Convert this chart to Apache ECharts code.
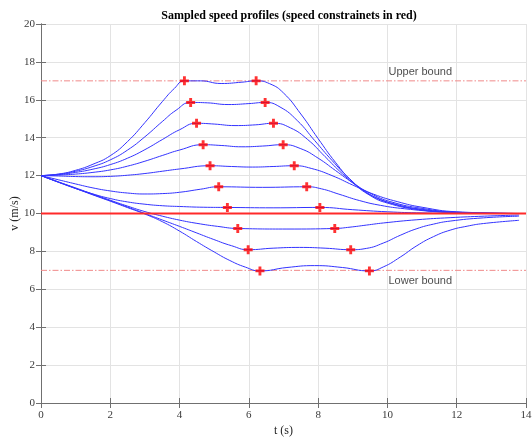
<!DOCTYPE html>
<html>
<head>
<meta charset="utf-8">
<script src="https://cdn.jsdelivr.net/npm/echarts@6/dist/echarts.min.js"></script>
<style>
  *{ margin:0; padding:0; }
  #chart{ width:532px; height:438px; background:#fff; }
</style>
</head>
<body>
<div id="chart"></div>
<script>
// speed profiles [t, v]
var profile1 = [[0,12],[0.5,12.08],[1,12.28],[1.5,12.6],[2,13.05],[2.5,13.8],[3,14.8],[3.5,15.9],[3.85,16.6],[4.14,17],[4.6,17.0],[5.2,16.86],[5.8,16.93],[6.21,17],[6.6,16.85],[7.0,16.36],[7.5,15.25],[8.0,13.95],[8.5,12.7],[9.0,11.65],[9.5,10.95],[10,10.55],[10.9,10.2],[11.8,10.06],[12.8,10.01],[13.8,10]];
var profile2 = [[0,12],[0.5,12.07],[1,12.23],[1.5,12.48],[2,12.83],[2.5,13.35],[3,14.05],[3.5,14.85],[3.9,15.45],[4.32,15.86],[4.8,15.84],[5.4,15.75],[6.0,15.8],[6.47,15.86],[6.9,15.62],[7.4,14.9],[7.9,13.85],[8.4,12.8],[8.9,11.85],[9.4,11.1],[10,10.6],[10.9,10.22],[11.8,10.07],[12.8,10.01],[13.8,10]];
var profile3 = [[0,12],[0.5,12.05],[1,12.17],[1.5,12.34],[2,12.58],[2.5,12.92],[3,13.37],[3.5,13.9],[4.0,14.42],[4.49,14.76],[5.0,14.72],[5.6,14.64],[6.2,14.68],[6.71,14.76],[7.2,14.52],[7.7,13.9],[8.2,13.0],[8.7,12.1],[9.2,11.35],[9.7,10.82],[10.3,10.46],[11,10.22],[12,10.06],[13.8,10]];
var profile4 = [[0,12],[0.5,12.03],[1,12.08],[1.5,12.17],[2,12.3],[2.5,12.5],[3,12.76],[3.5,13.06],[4,13.35],[4.68,13.63],[5.2,13.59],[5.8,13.52],[6.4,13.56],[6.99,13.63],[7.5,13.42],[8,12.92],[8.5,12.27],[9,11.62],[9.5,11.07],[10.1,10.62],[11,10.27],[12,10.07],[13.8,10]];
var profile5 = [[0,12],[0.5,11.98],[1,11.95],[1.5,11.94],[2,11.96],[2.5,12.02],[3,12.11],[3.5,12.23],[4,12.35],[4.88,12.52],[5.5,12.48],[6.1,12.45],[6.7,12.48],[7.31,12.52],[7.8,12.38],[8.4,12.0],[9,11.5],[9.6,11.02],[10.3,10.62],[11,10.33],[12,10.09],[13.8,10]];
var profile6 = [[0,12],[0.5,11.78],[1,11.56],[1.5,11.35],[2,11.19],[2.5,11.08],[3,11.03],[3.5,11.05],[4,11.12],[4.6,11.28],[5.13,11.41],[6.4,11.38],[7.67,11.41],[8.1,11.3],[8.6,11.02],[9.2,10.68],[9.8,10.43],[10.5,10.25],[11.5,10.09],[12.5,10.02],[13.8,10]];
var profile7 = [[0,12],[0.5,11.65],[1,11.32],[1.5,11.03],[2,10.79],[2.5,10.61],[3,10.49],[3.5,10.41],[4,10.37],[4.7,10.33],[5.38,10.32],[6.7,10.3],[8.05,10.32],[9,10.2],[10,10.09],[11,10.03],[12,10.01],[13.8,10]];
var profile8 = [[0,12],[0.5,11.67],[1,11.35],[1.5,11.02],[2,10.7],[2.5,10.39],[3,10.1],[3.5,9.86],[4,9.65],[4.5,9.48],[5.1,9.32],[5.68,9.21],[7.1,9.18],[8.48,9.21],[8.92,9.28],[9.4,9.39],[9.88,9.5],[10.85,9.67],[11.81,9.78],[12.8,9.86],[13.8,9.92]];
var profile9 = [[0,12],[0.5,11.66],[1,11.33],[1.5,11.0],[2,10.67],[2.5,10.34],[3,10.0],[3.5,9.66],[4,9.32],[4.5,8.97],[4.97,8.64],[5.5,8.3],[5.98,8.09],[6.7,8.17],[7.46,8.21],[8.2,8.17],[8.94,8.09],[9.4,8.16],[9.88,8.44],[10.37,8.85],[10.85,9.2],[11.33,9.44],[11.81,9.6],[12.77,9.77],[13.8,9.86]];
var profile10 = [[0,12],[0.5,11.66],[1,11.32],[1.5,10.98],[2,10.65],[2.5,10.31],[3,9.97],[3.5,9.57],[4,9.07],[4.49,8.52],[5.0,7.97],[5.45,7.52],[5.9,7.17],[6.32,6.97],[7.1,7.15],[7.9,7.25],[8.7,7.15],[9.48,6.97],[9.88,7.18],[10.37,7.7],[10.85,8.3],[11.33,8.78],[11.81,9.12],[12.3,9.33],[12.77,9.47],[13.8,9.64]];

// speed constraint points (red crosses)
var markT1 = [4.14, 4.32, 4.49, 4.68, 4.88, 5.13, 5.38, 5.68, 5.98, 6.32];
var markT2 = [6.21, 6.47, 6.71, 6.99, 7.31, 7.67, 8.05, 8.48, 8.94, 9.48];
var markV  = [17, 15.86, 14.76, 13.63, 12.52, 11.41, 10.32, 9.21, 8.09, 6.97];

var targetV = 10;
var upperV = 17;
var lowerV = 7;
var tRange = [0, 14];

var profiles = [profile1, profile2, profile3, profile4, profile5, profile6, profile7, profile8, profile9, profile10];

var marks = [];
for (var i = 0; i < markV.length; i++) {
  marks.push([markT1[i], markV[i]]);
  marks.push([markT2[i], markV[i]]);
}

var chart = echarts.init(document.getElementById('chart'));

var axisCol = '#707070';
var labelFont = { fontFamily: 'Liberation Serif', fontSize: 11, color: '#3a3a3a' };

var series = [];
profiles.forEach(function (p) {
  series.push({
    type: 'line',
    data: p,
    smooth: 0.5,
    symbol: 'none',
    lineStyle: { color: '#3333ff', width: 1 },
    z: 2
  });
});

// bounds
series.push({
  type: 'line',
  data: [[tRange[0], upperV], [tRange[1], upperV]],
  symbol: 'none',
  lineStyle: { color: '#f08a8a', width: 1, type: [6, 2, 1.5, 2] },
  z: 1
});
series.push({
  type: 'line',
  data: [[tRange[0], lowerV], [tRange[1], lowerV]],
  symbol: 'none',
  lineStyle: { color: '#f08a8a', width: 1, type: [6, 2, 1.5, 2] },
  z: 1
});
// target speed
series.push({
  type: 'line',
  data: [[tRange[0], targetV], [tRange[1], targetV]],
  symbol: 'none',
  lineStyle: { color: '#ff2a2a', width: 2 },
  z: 3
});
// constraint crosses
series.push({
  type: 'scatter',
  data: marks,
  symbol: 'path://M3.4,0H6.6V3.4H10V6.6H6.6V10H3.4V6.6H0V3.4H3.4Z',
  symbolSize: 9,
  itemStyle: { color: '#ff0000' },
  z: 4
});
// bound labels
series.push({
  type: 'scatter',
  data: [[10.03, 17.45, 'Upper bound'], [10.03, 6.45, 'Lower bound']],
  symbolSize: 0,
  label: {
    show: true,
    position: 'right',
    distance: 0,
    formatter: function (p) { return p.data[2]; },
    fontFamily: 'Liberation Sans',
    fontSize: 11,
    color: '#1a1a1a'
  },
  silent: true,
  z: 5
});

chart.setOption({
  animation: false,
  title: {
    text: 'Sampled speed profiles (speed constrainets in red)',
    left: 284,
    top: 5,
    textAlign: 'center',
    textStyle: { fontFamily: 'Liberation Serif', fontSize: 12, fontWeight: 'bold', color: '#000' }
  },
  grid: { left: 41, right: 6, top: 24, bottom: 35, outerBoundsMode: 'none' },
  xAxis: [{
    type: 'value', min: 0, max: 14, interval: 2, position: 'bottom',
    name: 't (s)', nameLocation: 'middle', nameGap: 22, nameMoveOverlap: false,
    nameTextStyle: { fontFamily: 'Liberation Serif', fontSize: 12, color: '#262626' },
    axisLine: { lineStyle: { color: axisCol } },
    axisTick: { inside: true, length: 5, lineStyle: { color: axisCol } },
    axisLabel: Object.assign({ margin: 7 }, labelFont),
    splitLine: { show: true, lineStyle: { color: '#e3e3e3' } }
  }, {
    type: 'value', min: 0, max: 14, interval: 2, position: 'top',
    axisLine: { lineStyle: { color: axisCol } },
    axisTick: { inside: true, length: 5, lineStyle: { color: axisCol } },
    axisLabel: { show: false },
    splitLine: { show: false }
  }],
  yAxis: [{
    type: 'value', min: 0, max: 20, interval: 2, position: 'left',
    name: 'v (m/s)', nameLocation: 'middle', nameGap: 20, nameMoveOverlap: false,
    nameTextStyle: { fontFamily: 'Liberation Serif', fontSize: 12, color: '#262626' },
    axisLine: { show: true, lineStyle: { color: axisCol } },
    axisTick: { show: true, inside: true, length: 5, lineStyle: { color: axisCol } },
    axisLabel: Object.assign({ margin: 6 }, labelFont),
    splitLine: { show: true, lineStyle: { color: '#e3e3e3' } }
  }, {
    type: 'value', min: 0, max: 20, interval: 2, position: 'right',
    axisLine: { show: true, lineStyle: { color: axisCol } },
    axisTick: { show: true, inside: true, length: 5, lineStyle: { color: axisCol } },
    axisLabel: { show: false },
    splitLine: { show: false }
  }],
  series: series
});
</script>
</body>
</html>
